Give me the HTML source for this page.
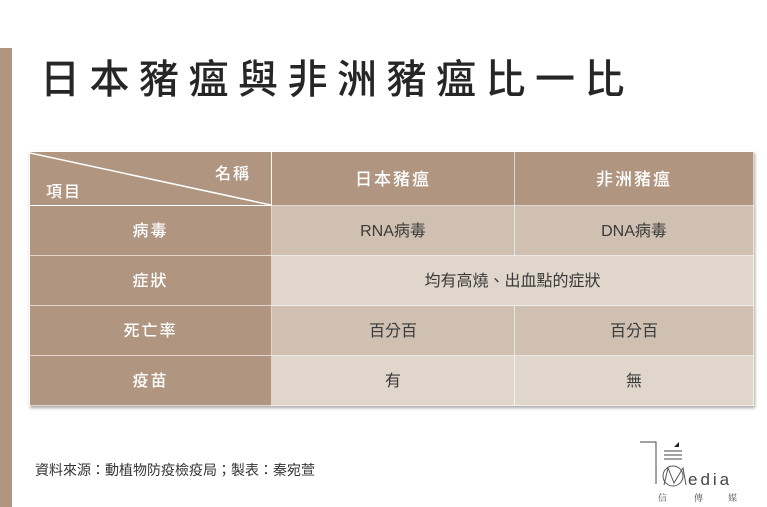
<!DOCTYPE html>
<html><head><meta charset="utf-8"><style>
body{margin:0;width:767px;height:507px;background:#fff;position:relative;overflow:hidden;font-family:"Liberation Sans","Noto Sans CJK TC",sans-serif}
.bar{position:absolute;left:0;top:48px;width:12px;height:459px;background:#b09680}
h1{position:absolute;left:40px;top:52px;margin:0;font-size:40px;font-weight:500;letter-spacing:9.5px;color:#262626;line-height:48px;font-family:"Noto Sans CJK TC",sans-serif}
table{position:absolute;left:29px;top:151px;width:725px;border-collapse:collapse;box-shadow:1px 2px 3px rgba(0,0,0,.35)}
td{border:1px solid rgba(255,255,255,.6);text-align:center;font-size:16px;color:#3a3a3a;padding:0 0 3px 0}
td.h{background:#b09680;color:#fff;font-weight:500;letter-spacing:2px}
tr.hd td{height:50px}
tr.r td{height:46px}
.a{background:#cfc0b1}.b{background:#e0d6cc}
.src{position:absolute;left:35px;top:460px;font-size:14px;color:#333}
</style></head><body>
<div class="bar"></div>
<h1>日本豬瘟與非洲豬瘟比一比</h1>
<table>
<tr class="hd"><td class="h" style="width:241px;position:relative">
<svg width="241" height="54" style="position:absolute;left:0;top:0"><line x1="0" y1="1" x2="241" y2="53" stroke="#fff" stroke-width="1.5"/></svg>
<span style="position:absolute;right:20px;top:8px">名稱</span><span style="position:absolute;left:16px;top:26px">項目</span></td>
<td class="h" style="width:242px;font-size:17px">日本豬瘟</td><td class="h" style="font-size:17px">非洲豬瘟</td></tr>
<tr class="r"><td class="h">病毒</td><td class="a">RNA病毒</td><td class="a">DNA病毒</td></tr>
<tr class="r"><td class="h">症狀</td><td class="b" colspan="2">均有高燒、出血點的症狀</td></tr>
<tr class="r"><td class="h">死亡率</td><td class="a">百分百</td><td class="a">百分百</td></tr>
<tr class="r"><td class="h">疫苗</td><td class="b">有</td><td class="b">無</td></tr>
</table>
<div class="src">資料來源：動植物防疫檢疫局；製表：秦宛萱</div>
<svg width="130" height="75" style="position:absolute;left:630px;top:432px">
<polyline points="10,10 26,10 26,52" fill="none" stroke="#444" stroke-width="1"/>
<line x1="34" y1="19" x2="52" y2="19" stroke="#444"/><line x1="34" y1="23" x2="52" y2="23" stroke="#444"/><line x1="34" y1="27" x2="52" y2="27" stroke="#444"/>
<path d="M44 15 L49 10 L49 15Z" fill="#222"/>
<circle cx="43" cy="44" r="10" fill="none" stroke="#555"/>
<polyline points="34,53 38,36 44,51 53,36 56,53" fill="none" stroke="#555"/>
<text x="58" y="53" font-size="17" fill="#444" letter-spacing="3" font-family="Liberation Sans">edia</text>
<text x="28" y="69" font-size="9" fill="#555" font-family="Noto Serif CJK SC,serif">信</text>
<text x="64" y="69" font-size="9" fill="#555" font-family="Noto Serif CJK SC,serif">傳</text>
<text x="98" y="69" font-size="9" fill="#555" font-family="Noto Serif CJK SC,serif">媒</text>
</svg>
</body></html>
